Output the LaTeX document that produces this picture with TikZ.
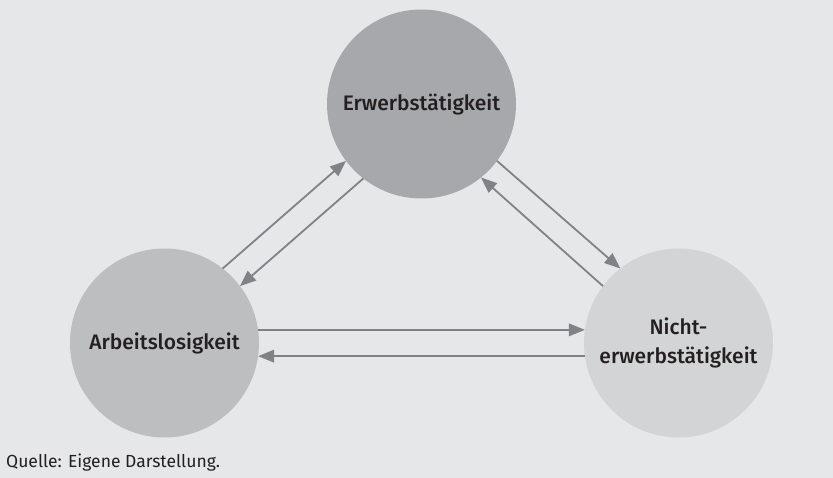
\documentclass[tikz,border=0pt]{standalone}
\usepackage{fontspec}
\setmainfont{Fira Sans}
\newfontfamily\zustandfont{Fira Sans}[UprightFont={* Medium}]
\usetikzlibrary{arrows.meta}
\definecolor{grund}{HTML}{E6E7E8}
\definecolor{erwerb}{HTML}{A7A8AB}
\definecolor{arbeitslos}{HTML}{BDBEC0}
\definecolor{nichterwerb}{HTML}{D3D4D5}
\definecolor{pfeilgrau}{HTML}{808285}
\definecolor{schrift}{HTML}{231F20}

\begin{document}
\begin{tikzpicture}[x=1pt,y=-1pt,
    zustand/.style={circle,minimum size=189pt,inner sep=0pt,outer sep=0pt,text=schrift,
        font=\zustandfont\fontsize{21}{29}\selectfont,align=center},
    uebergang/.style={draw=pfeilgrau,line width=1.8pt,-{Triangle[length=16pt,width=12.5pt]}}]
            \fill[grund] (0,0) rectangle (833,478);

            \node[zustand,fill=erwerb] (E) at (421.5,104) {Erwerbstätigkeit};
            \node[zustand,fill=arbeitslos] (A) at (164.5,343) {Arbeitslosigkeit};
            \node[zustand,fill=nichterwerb] (N) at (678.5,343) {Nicht-\\erwerbstätigkeit};

            \draw[uebergang] (A.52) to (E.217);
            \draw[uebergang] (E.232) to (A.37);
            \draw[uebergang] (E.323) to (N.128);
            \draw[uebergang] (N.143) to (E.309);
            \draw[uebergang] (A.8) to (N.172);
            \draw[uebergang] (N.188) to (A.-8);

            \node[anchor=base west,inner sep=0pt,text=schrift,font=\fontsize{17.5}{20}\selectfont] (quelle) at (6,467) {Quelle: Eigene Darstellung.};
        \end{tikzpicture}
\end{document}
